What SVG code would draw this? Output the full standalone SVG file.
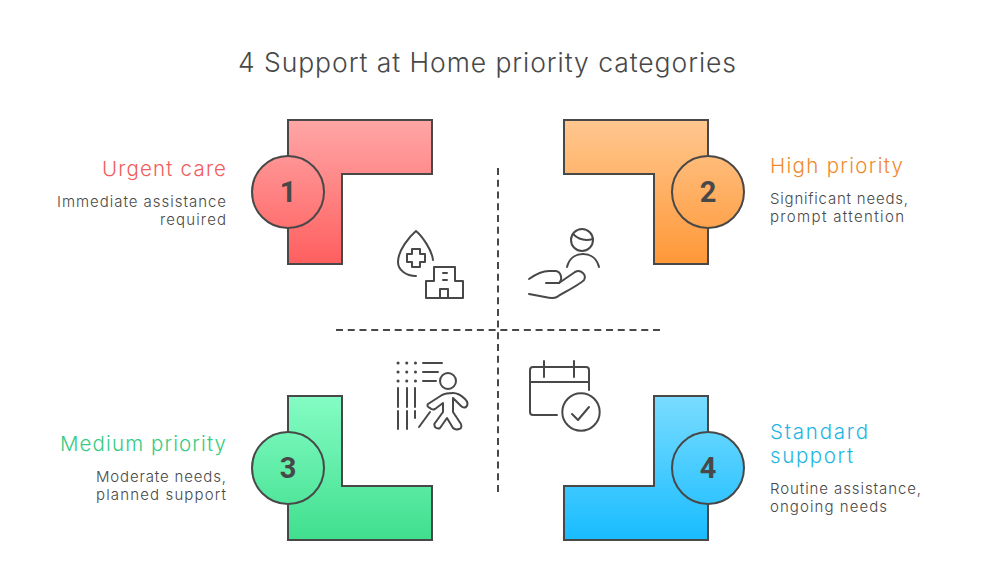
<svg xmlns="http://www.w3.org/2000/svg" width="1000" height="587" viewBox="0 0 1000 587">
<style>
.t{font-family:"Inter","Open Sans","Liberation Sans",sans-serif}
.title{font-size:26.5px;fill:#484848;font-weight:300}
.head{font-size:20.5px;font-weight:300}
.body{font-size:15px;fill:#484848;font-weight:300}
.num{font-family:"Roboto","Liberation Sans",sans-serif;font-size:29px;font-weight:700;fill:#484848;text-anchor:middle}
.s{stroke:#484848;stroke-width:2;stroke-linejoin:miter}
.i{fill:none;stroke:#484848;stroke-width:2;stroke-linecap:round;stroke-linejoin:round}
.dots{stroke-width:3;stroke-dasharray:0.1 8.6}
.d{fill:none;stroke:#484848;stroke-width:2;stroke-dasharray:7 4.74}
</style>
<defs>
<linearGradient id="g1" gradientUnits="userSpaceOnUse" x1="0" y1="120" x2="0" y2="264"><stop offset="0" stop-color="#FFA6A6"/><stop offset="1" stop-color="#FF5F5F"/></linearGradient>
<linearGradient id="g2" gradientUnits="userSpaceOnUse" x1="0" y1="120" x2="0" y2="264"><stop offset="0" stop-color="#FFC78F"/><stop offset="1" stop-color="#FF9838"/></linearGradient>
<linearGradient id="g3" gradientUnits="userSpaceOnUse" x1="0" y1="396" x2="0" y2="540"><stop offset="0" stop-color="#84FCC4"/><stop offset="1" stop-color="#40DF8E"/></linearGradient>
<linearGradient id="g4" gradientUnits="userSpaceOnUse" x1="0" y1="396" x2="0" y2="540"><stop offset="0" stop-color="#7ADCFF"/><stop offset="1" stop-color="#18BCFF"/></linearGradient>
</defs>
<rect width="1000" height="587" fill="#fff"/>
<text class="t title" x="238" y="72" textLength="498" lengthAdjust="spacing">4 Support at Home priority categories</text>
<g id="connectors">
<path class="d" d="M498 168V492"/>
<path class="d" d="M336 330H660"/>
</g>
<g id="node-1">
<path class="s" fill="url(#g1)" d="M288 120H432V174H342V264H288Z"/>
<circle class="s" fill="url(#g1)" cx="288" cy="192" r="36"/>
<text class="num" x="288" y="202">1</text>
<text class="t head" fill="#F25C5C" x="102" y="176" textLength="124" lengthAdjust="spacing">Urgent care</text>
<text class="t body" x="57" y="207" textLength="169" lengthAdjust="spacing">Immediate assistance</text>
<text class="t body" x="160" y="225" textLength="66" lengthAdjust="spacing">required</text>
<g class="i">
<path d="M433 260C432 250 422 236 416 231C410 236 398 250 398 262C398 270 406 276 416 276"/>
<path d="M412 249H420V254H425V262H420V267H412V262H407V254H412Z"/>
<path d="M434 281V267H455V281H463V298H426V281H434Z"/>
<path d="M440 298V289H448V298M443 273H447M443 280H447"/>
</g>
</g>
<g id="node-2">
<path class="s" fill="url(#g2)" d="M564 120H708V264H654V174H564Z"/>
<circle class="s" fill="url(#g2)" cx="708" cy="192" r="36"/>
<text class="num" x="708" y="202">2</text>
<text class="t head" fill="#EF8B2F" x="770" y="173" textLength="133" lengthAdjust="spacing">High priority</text>
<text class="t body" x="770" y="204" textLength="138" lengthAdjust="spacing">Significant needs,</text>
<text class="t body" x="770" y="222" textLength="134" lengthAdjust="spacing">prompt attention</text>
<g class="i">
<circle cx="582" cy="240" r="11"/>
<path d="M573 234C579 240 586 241 593 239"/>
<path d="M567 267C569 259 575 254 583 254C591 254 597 259 599 267"/>
<path d="M529 279C536 274 543 271 549 271H556C561 272 563 279 559 283H546"/>
<path d="M559 283L575 272C581 269 587 275 584 280C582 283 565 292 557 297C553 299 549 298 545 297L529 294"/>
</g>
</g>
<g id="node-3">
<path class="s" fill="url(#g3)" d="M288 396H342V486H432V540H288Z"/>
<circle class="s" fill="url(#g3)" cx="288" cy="468" r="36"/>
<text class="num" x="288" y="478">3</text>
<text class="t head" fill="#36CB82" x="60" y="451" textLength="166" lengthAdjust="spacing">Medium priority</text>
<text class="t body" x="96" y="482" textLength="130" lengthAdjust="spacing">Moderate needs,</text>
<text class="t body" x="96" y="500" textLength="130" lengthAdjust="spacing">planned support</text>
<g class="i">
<path class="dots" d="M398 363H416M398 372H416M398 381H416"/>
<path d="M423 363H442M423 372H438M423 381H436M398 388V407M407 388V407M415 388V407M398 411V429M407 411V429M415 411V418"/>
<circle cx="448" cy="381" r="8"/>
<path d="M430 408C427 407 427 405 428 404L442 395C446 393 450 393 453 393C458 393 462 396 465 399C468 402 468 405 466 407C464 408 462 407 461 406L453 398V412L461 424C462 427 461 429 459 429C456 430 454 429 453 428L447 418L440 428C438 429 436 428 435 427C434 425 434 424 435 423L443 412V403L435 409C433 410 431 409 430 408Z"/>
<path d="M419 427L430 412"/>
</g>
</g>
<g id="node-4">
<path class="s" fill="url(#g4)" d="M654 396H708V540H564V486H654Z"/>
<circle class="s" fill="url(#g4)" cx="708" cy="468" r="36"/>
<text class="num" x="708" y="478">4</text>
<text class="t head" fill="#1FB5E3" x="770" y="439" textLength="98" lengthAdjust="spacing">Standard</text>
<text class="t head" fill="#1FB5E3" x="770" y="463" textLength="83" lengthAdjust="spacing">support</text>
<text class="t body" x="770" y="494" textLength="151" lengthAdjust="spacing">Routine assistance,</text>
<text class="t body" x="770" y="512" textLength="117" lengthAdjust="spacing">ongoing needs</text>
<g class="i">
<path d="M589 390V370C589 368 588 367 586 367H533C531 367 530 368 530 370V412C530 414 531 415 533 415H557"/>
<path d="M530 382H589M544 361V377M574 361V377"/>
<circle cx="581" cy="412" r="18.7"/>
<path d="M572 414L578 420L589 407"/>
</g>
</g>
</svg>
